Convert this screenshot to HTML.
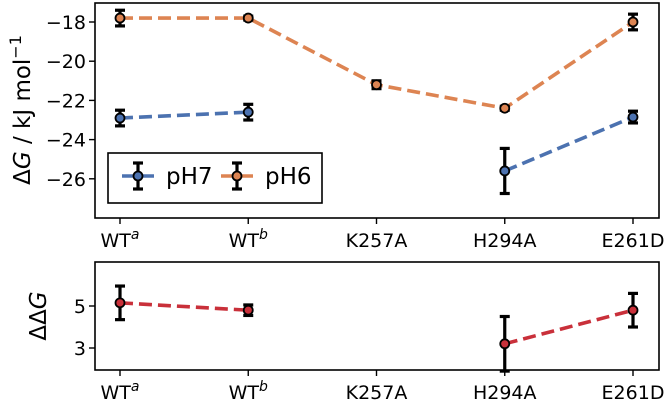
<!DOCTYPE html>
<html><head><meta charset="utf-8"><style>
html,body{margin:0;padding:0;background:#fff;}
svg{display:block;font-family:"DejaVu Sans","Liberation Sans",sans-serif;}
</style></head><body>
<svg id="chart" width="664" height="405" xmlns="http://www.w3.org/2000/svg"></svg>
<script>
const categories=["WT","WT","K257A","H294A","E261D"];
const catSup=["a","b","","",""];
const ph7=[-22.9,-22.6,null,-25.6,-22.85];
const ph7Err=[0.4,0.4,null,1.15,0.3];
const ph6=[-17.8,-17.8,-21.2,-22.4,-18.0];
const ph6Err=[0.4,0.1,0.2,0.1,0.4];
const ddg=[5.15,4.8,null,3.2,4.8];
const ddgErr=[0.8,0.25,null,1.3,0.8];
const topTicks=[-18,-20,-22,-24,-26];
const botTicks=[5,3];

const NS="http://www.w3.org/2000/svg";
const svg=document.getElementById('chart');
function el(t,a,p){const e=document.createElementNS(NS,t);for(const k in a)e.setAttribute(k,a[k]);(p||svg).appendChild(e);return e;}
const xS=i=>120+i*128.25;
const yT=v=>22+(-18-v)*19.6;
const yB=v=>306+(5-v)*21;

function axes(top,bot,name){
  const r=el('rect',{x:95,y:top,width:564,height:bot-top,fill:'none',stroke:'#000','stroke-width':1.6});
  
  categories.forEach((c,i)=>{
    const tk=el('line',{x1:xS(i),x2:xS(i),y1:bot,y2:bot+6,stroke:'#000','stroke-width':1.4});
    
    const t=el('text',{x:xS(i),y:bot+29,'text-anchor':'middle','font-size':19});
    
    t.textContent=c;
    if(catSup[i]){const s=el('tspan',{'font-size':14,dy:-8,'font-style':'italic'},t);s.textContent=catSup[i];}
  });
}
function series(vals,errs,ys,color,name){
  let pts=[];
  vals.forEach((v,i)=>{ if(v===null){if(pts.length>1)drawLine(pts);pts=[];return;} pts.push([xS(i),ys(v)]); });
  if(pts.length>1)drawLine(pts);
  function drawLine(p){const l=el('polyline',{points:p.map(q=>q.join(',')).join(' '),fill:'none',stroke:color,'stroke-width':3.6,'stroke-dasharray':'13,6'});
    }
  vals.forEach((v,i)=>{ if(v===null)return;
    const x=xS(i),y1=ys(v+errs[i]),y2=ys(v-errs[i]);
    const g=el('g',{});
    el('line',{x1:x,x2:x,y1:y1,y2:y2,stroke:'#000','stroke-width':3.2},g);
    el('line',{x1:x-5,x2:x+5,y1:y1,y2:y1,stroke:'#000','stroke-width':3.2},g);
    el('line',{x1:x-5,x2:x+5,y1:y2,y2:y2,stroke:'#000','stroke-width':3.2},g);
    const c=el('circle',{cx:x,cy:ys(v),r:4.5,fill:color,stroke:'#000','stroke-width':1.8});
    
  });
}
axes(3,218,'top-panel');
axes(262,370,'bottom-panel');
topTicks.forEach(v=>{
  const tk=el('line',{x1:89,x2:95,y1:yT(v),y2:yT(v),stroke:'#000','stroke-width':1.4});
  
  const t=el('text',{x:86,y:yT(v)+7,'text-anchor':'end','font-size':19});
  
  t.textContent='\u2212'+Math.abs(v);
});
botTicks.forEach(v=>{
  const tk=el('line',{x1:89,x2:95,y1:yB(v),y2:yB(v),stroke:'#000','stroke-width':1.4});
  
  const t=el('text',{x:86,y:yB(v)+7,'text-anchor':'end','font-size':19});
  
  t.textContent=String(v);
});
series(ph7,ph7Err,yT,'#4c72b0','ph7');
series(ph6,ph6Err,yT,'#dd8452','ph6');
series(ddg,ddgErr,yB,'#c9303a','ddg');

const yl=el('text',{x:0,y:0,transform:'translate(30,110) rotate(-90)','text-anchor':'middle','font-size':23});

yl.innerHTML='\u0394<tspan font-style="italic">G</tspan> / kJ mol<tspan font-size="16" dy="-9">\u22121</tspan>';
const yl2=el('text',{x:0,y:0,transform:'translate(46,316) rotate(-90)','text-anchor':'middle','font-size':23});

yl2.innerHTML='\u0394\u0394<tspan font-style="italic">G</tspan>';

const lg=el('g',{});
el('rect',{x:108,y:153,width:214,height:50,fill:'#fff',stroke:'#000','stroke-width':1.6},lg);
[['pH7','#4c72b0',122],['pH6','#dd8452',221]].forEach(([lab,col,x0])=>{
  const e=el('g',{},lg);
  el('line',{x1:x0,x2:x0+32,y1:176,y2:176,stroke:col,'stroke-width':3.6},e);
  const cx=x0+16;
  el('line',{x1:cx,x2:cx,y1:163,y2:189,stroke:'#000','stroke-width':3.2},e);
  el('line',{x1:cx-5,x2:cx+5,y1:163,y2:163,stroke:'#000','stroke-width':3.2},e);
  el('line',{x1:cx-5,x2:cx+5,y1:189,y2:189,stroke:'#000','stroke-width':3.2},e);
  el('circle',{cx:cx,cy:176,r:4.5,fill:col,stroke:'#000','stroke-width':1.8},e);
  const t=el('text',{x:x0+44,y:184,'font-size':23},e);t.textContent=lab;
});
</script>
</body></html>
